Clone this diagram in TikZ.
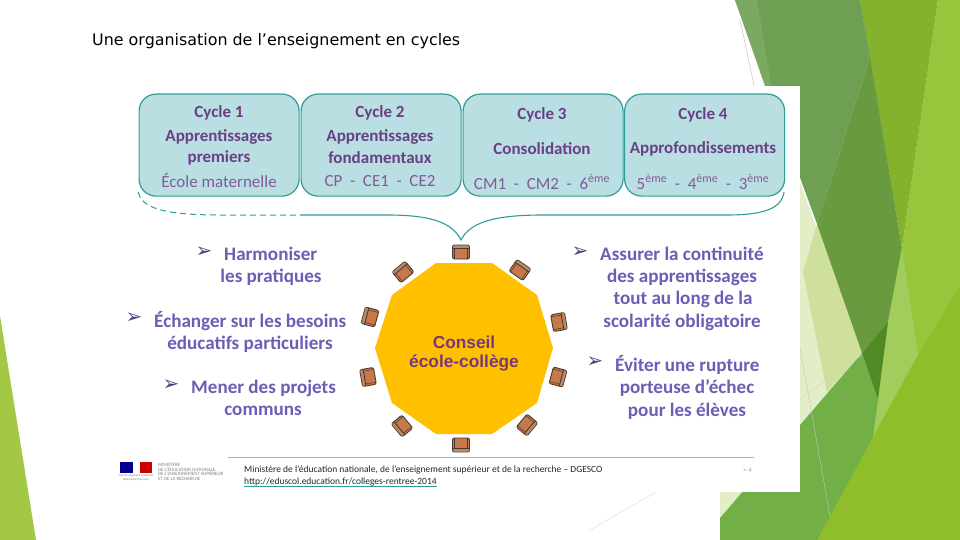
\documentclass[tikz,border=0pt]{standalone}
\usepackage{fontspec}
\setmainfont{Carlito}
\newfontfamily\dejavu{DejaVu Sans}
\newfontfamily\libsans{Liberation Sans}
\definecolor{boxedge}{HTML}{2F9C9A}
\definecolor{boxfill}{HTML}{B9DFE3}
\definecolor{headpurple}{HTML}{6A3F85}
\definecolor{bulletblue}{HTML}{6B5FB5}
\definecolor{chairfill}{HTML}{C6794B}
\definecolor{chairback}{HTML}{B98A68}
\definecolor{chairedge}{HTML}{4A3A30}
\definecolor{gA}{HTML}{6F9F52}\definecolor{gB}{HTML}{6A9A40}\definecolor{gC}{HTML}{84B22D}
\definecolor{gD}{HTML}{97C63C}\definecolor{gE}{HTML}{8FBE2A}\definecolor{gF}{HTML}{A2CC5C}
\definecolor{gG}{HTML}{72AF46}\definecolor{gH}{HTML}{4F8A25}\definecolor{gI}{HTML}{E3EDC8}
\definecolor{gJ}{HTML}{CFE09C}\definecolor{gK}{HTML}{A3C846}\definecolor{gL}{HTML}{7BA962}
\definecolor{tablecol}{HTML}{FFC000}
\begin{document}
\begin{tikzpicture}[x=1pt,y=-1pt,
  cyclebox/.style={draw=boxedge,line width=1.2pt,fill=boxfill,rounded corners=17pt,minimum width=160pt,minimum height=102pt,anchor=north west,inner sep=0pt},
  head/.style={font=\fontsize{17}{17}\selectfont\bfseries,text=headpurple,anchor=center,inner sep=0pt,yshift=-1.5pt},
  sub/.style={font=\fontsize{17}{17}\selectfont,text=headpurple!85!white,anchor=center,inner sep=0pt},
  pt/.style={font=\fontsize{19.1}{19.1}\selectfont\bfseries,text=bulletblue,inner sep=0pt,yshift=-1pt},
  bul/.style={font=\fontsize{20}{20}\selectfont\dejavu,text=bulletblue!70!black,inner sep=0pt,anchor=center},
  tabletext/.style={font=\fontsize{17.3}{17.3}\selectfont\libsans\bfseries,text=headpurple!90!red,inner sep=0pt,yshift=-1pt},
  seat/.pic={
    \fill[chairfill,draw=chairedge,line width=.9pt,rounded corners=2pt] (-8.5,-7) rectangle (8.5,7);
    \fill[chairback,rounded corners=1pt] (-8,-6.5) rectangle (8,-3.5);
    \draw[chairedge,line width=.9pt] (-8.5,-3.5) -- (8.5,-3.5);
    \draw[chairedge,line width=.5pt] (-6.5,-3.5) -- (-6.5,7) (6.5,-3.5) -- (6.5,7);
  }]
\useasboundingbox (0,0) rectangle (960,540);
\fill[white] (0,0) rectangle (960,540);
% background facets
\fill[gK] (0,316) -- (36,540) -- (0,540) -- cycle;
\fill[gI] (765,86) -- (862,353) -- (720,518) -- (720,86) -- cycle;
\fill[gJ] (817,224) -- (803,272) -- (827,392) -- (862,353) -- cycle;
\fill[gD] (938,0) -- (960,0) -- (960,540) -- (817,540) -- (902,248) -- cycle;
\fill[gC] (860,0) -- (938,0) -- (902,248) -- cycle;
\fill[gA] (735,0) -- (860,0) -- (870,57) -- (817,224) -- cycle;
\fill[gL] (735,0) -- (757,0) -- (772,90) -- (765,86) -- cycle;
\fill[gB] (870,57) -- (902,248) -- (888,322) -- (862,353) -- (817,224) -- cycle;
\fill[gF] (902,248) -- (918,355) -- (873,437) -- (878,399) -- (888,322) -- cycle;
\fill[gE] (960,286) -- (960,540) -- (817,540) -- (873,437) -- (918,355) -- cycle;
\fill[gG] (862,353) -- (878,399) -- (873,437) -- (817,540) -- (720,540) -- (720,518) -- cycle;
\fill[gH] (862,353) -- (888,322) -- (878,399) -- cycle;
\draw[gray!55,line width=.4pt] (740,20) -- (755,90);
\draw[gray!45,line width=.4pt] (800,348) -- (830,516);
\draw[gray!35,line width=.4pt] (800,399) -- (862,355);
\draw[gray!30,line width=.4pt] (590,530) -- (656,492);
% panel
\fill[white] (120,86) rectangle (800,492);
% title
\node[anchor=west,inner sep=0pt,font=\fontsize{15.9}{15.9}\selectfont\dejavu] (title) at (92,41) {Une organisation de l’enseignement en cycles};
% brace
\draw[boxedge,line width=1pt,dash pattern=on 6pt off 4pt] (138,192) .. controls (142,207) and (160,215) .. (220,215) -- (300,215);
\draw[boxedge,line width=1.1pt] (300,215) -- (387,215) .. controls (430,215) and (452,222) .. (461,240)
   .. controls (470,222) and (495,215) .. (543,215) -- (727,215) .. controls (765,215) and (782,208) .. (784,192);
% boxes
\node[cyclebox] (c1) at (138.5,93.5) {};
\node[cyclebox] (c2) at (300.5,93.5) {};
\node[cyclebox] (c3) at (462.5,93.5) {};
\node[cyclebox] (c4) at (624,93.5) {};
\node[head] (c1a) at (219,111) {Cycle 1};
\node[head] (c1b) at (219,135) {Apprentissages};
\node[head] (c1c) at (219,156) {premiers};
\node[sub] (c1d) at (219,180.5) {École maternelle};
\node[head] (c2a) at (380,111) {Cycle 2};
\node[head] (c2b) at (380,135) {Apprentissages};
\node[head] (c2c) at (380,156) {fondamentaux};
\node[sub] (c2d) at (380,181) {CP\ \ -\ \ CE1\ \ -\ \ CE2};
\node[head] (c3a) at (542,113) {Cycle 3};
\node[head] (c3b) at (542,147) {Consolidation};
\node[sub] (c3c) at (542,182) {CM1\ \ -\ \ CM2\ \ -\ \ 6\textsuperscript{ème}};
\node[head] (c4a) at (703,113) {Cycle 4};
\node[head] (c4b) at (703,147) {Approfondissements};
\node[sub] (c4c) at (703,182) {5\textsuperscript{ème}\ \ -\ \ 4\textsuperscript{ème}\ \ -\ \ 3\textsuperscript{ème}};
% left points
\node[bul] (b1) at (204,252) {➢};
\node[pt,anchor=west] (p1) at (224,253) {Harmoniser};
\node[pt] (p1b) at (271,276) {les pratiques};
\node[bul] (b2) at (134,318) {➢};
\node[pt,anchor=west] (p2) at (154,320) {Échanger sur les besoins};
\node[pt] (p2b) at (250,343) {éducatifs particuliers};
\node[bul] (b3) at (171,385) {➢};
\node[pt,anchor=west] (p3) at (191,387) {Mener des projets};
\node[pt] (p3b) at (263,410) {communs};
% right points
\node[bul] (b4) at (580,252) {➢};
\node[pt,anchor=west] (p4) at (600,253) {Assurer la continuité};
\node[pt] (p4b) at (682,276) {des apprentissages};
\node[pt] (p4c) at (683,298) {tout au long de la};
\node[pt] (p4d) at (682,321) {scolarité obligatoire};
\node[bul] (b5) at (595,362) {➢};
\node[pt,anchor=west] (p5) at (615,364) {Éviter une rupture};
\node[pt] (p5b) at (687,387) {porteuse d’échec};
\node[pt] (p5c) at (687,410) {pour les élèves};
% table
\fill[tablecol] (436,263) -- (492,263) -- (537,295) -- (553,348) -- (537,403) -- (492,434) -- (436,434) -- (392,403) -- (375,348) -- (392,295) -- cycle;
\node[tabletext] (t1) at (464,341) {Conseil};
\node[tabletext] (t2) at (464,362) {école-collège};
% chairs
\pic[rotate=0] at (461,252) {seat};
\pic[rotate=40] at (403,272) {seat};
\pic[rotate=-35] at (520,270) {seat};
\pic[rotate=75] at (370,317) {seat};
\pic[rotate=-80] at (559,322) {seat};
\pic[rotate=100] at (368,377) {seat};
\pic[rotate=-105] at (558,377) {seat};
\pic[rotate=130] at (402,426) {seat};
\pic[rotate=-130] at (527,425) {seat};
\pic[rotate=180] at (461,445) {seat};
% footer
\draw[boxedge!40!gray!60,line width=.7pt] (228,457) -- (754,457);
\fill[blue!55!black] (120,462) rectangle (133,473);
\fill[red!80!black] (140,462) rectangle (152,473);
\node[anchor=north,align=center,inner sep=0pt,font=\fontsize{3}{4}\selectfont,text=gray] (motto) at (136,474) {Liberté • Égalité • Fraternité\\République Française};
\node[anchor=north west,align=left,inner sep=0pt,font=\fontsize{4.9}{4.8}\selectfont,text=gray] (logo) at (158,462) {MINISTÈRE\\DE L’ÉDUCATION NATIONALE,\\DE L’ENSEIGNEMENT SUPÉRIEUR\\ET DE LA RECHERCHE};
\node[anchor=west,inner sep=0pt,font=\fontsize{9.5}{9.5}\selectfont,text=black!85] (f1) at (244,470) {Ministère de l’éducation nationale, de l’enseignement supérieur et de la recherche – DGESCO};
\node[anchor=west,inner sep=0pt,font=\fontsize{9.5}{9.5}\selectfont,text=black!70!boxedge] (f2) at (244,482) {http://eduscol.education.fr/colleges-rentree-2014};
\draw[boxedge,line width=.6pt] (f2.south west) -- (f2.south east);
\node[anchor=east,inner sep=0pt,font=\fontsize{7}{7}\selectfont,text=gray!70] (f3) at (752,470) {> 4};
\end{tikzpicture}
\end{document}
